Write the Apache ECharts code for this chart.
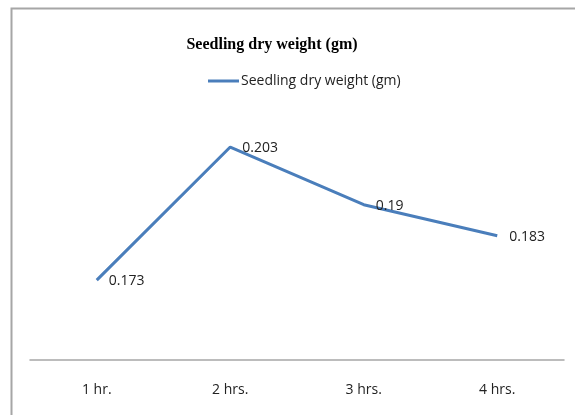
<!DOCTYPE html>
<html>
<head>
<meta charset="utf-8">
<script src="https://cdn.jsdelivr.net/npm/echarts@6/dist/echarts.min.js"></script>
<style>
  html, body { margin: 0; padding: 0; background: #fff; overflow: hidden; }
  #chart { width: 575px; height: 415px; }
</style>
</head>
<body>
<div id="chart"></div>
<script>
// Seedling dry weight by soaking duration
const categories = ['1 hr.', '2 hrs.', '3 hrs.', '4 hrs.'];
const dryWeight = [0.173, 0.203, 0.19, 0.183];
const seriesName = 'Seedling dry weight (gm)';
const titleText = 'Seedling dry weight (gm)';

const chart = echarts.init(document.getElementById('chart'));
chart.setOption({
  animation: false,
  backgroundColor: '#fff',
  graphic: [{
    type: 'polyline',
    shape: { points: [[11.5, 415], [11.5, 8.5], [575, 8.5]] },
    style: { fill: null, stroke: '#a6a6a6', lineWidth: 2 },
    silent: true
  }],
  title: {
    text: titleText,
    left: 267,
    textAlign: 'center',
    top: 32,
    textStyle: {
      fontFamily: 'Liberation Serif',
      fontWeight: 'bold',
      fontSize: 16,
      color: '#000'
    }
  },
  legend: {
    data: [seriesName],
    left: 203,
    top: 69,
    itemWidth: 31,
    itemHeight: 3,
    itemGap: 4,
    icon: 'rect',
    textStyle: {
      fontFamily: 'Open Sans',
      fontSize: 14,
      color: '#222',
      padding: [0, 0, 0, -3]
    }
  },
  grid: { left: 30, right: 11, top: 116, bottom: 55, containLabel: false },
  xAxis: {
    type: 'category',
    data: categories,
    boundaryGap: true,
    axisLine: { lineStyle: { color: '#a6a6a6', width: 1.5 } },
    axisTick: { show: false },
    axisLabel: {
      margin: 23,
      fontFamily: 'Open Sans',
      fontSize: 14,
      color: '#222'
    }
  },
  yAxis: {
    type: 'value',
    min: 0.155,
    max: 0.21,
    show: false,
    splitLine: { show: false }
  },
  series: [{
    name: seriesName,
    type: 'line',
    data: dryWeight,
    symbol: 'circle',
    symbolSize: 0,
    showSymbol: true,
    lineStyle: { color: '#4a7ebb', width: 3 },
    itemStyle: { color: '#4a7ebb' },
    label: {
      show: true,
      position: 'right',
      distance: 12,
      offset: [0, 1],
      fontFamily: 'Open Sans',
      fontSize: 14,
      color: '#222',
      formatter: p => String(p.value)
    }
  }]
});
</script>
</body>
</html>
